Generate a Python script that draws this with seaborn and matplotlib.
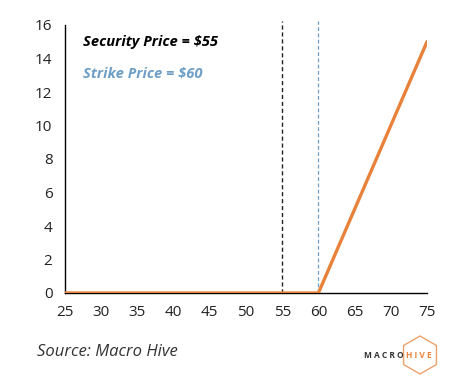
import numpy as np
import pandas as pd
import seaborn as sns
import matplotlib.pyplot as plt
from matplotlib.patches import Polygon

# Payoff data
prices = [25, 30, 35, 40, 45, 50, 55, 60, 65, 70, 75]
payoff = [0, 0, 0, 0, 0, 0, 0, 0, 5, 10, 15]
security_price = 55
strike_price = 60
x_ticks = [25, 30, 35, 40, 45, 50, 55, 60, 65, 70, 75]
y_ticks = [0, 2, 4, 6, 8, 10, 12, 14, 16]

orange = '#e8823a'
blue = '#6f9fc6'

sns.set_style('white')
plt.rcParams['font.family'] = ['Open Sans', 'DejaVu Sans']

df = pd.DataFrame({'price': prices, 'payoff': payoff})

W, H = 474, 382
fig = plt.figure(figsize=(W / 100, H / 100), dpi=100)
ax = fig.add_axes([65 / W, 1 - 293 / H, 362 / W, 268 / H])

ax.axvline(security_price, color='#222222', linestyle=(0, (3, 2)), linewidth=1.0, ymax=1.015, clip_on=False)
ax.axvline(strike_price, color=blue, linestyle=(0, (3, 2)), linewidth=0.9, ymax=1.015, clip_on=False)
sns.lineplot(data=df, x='price', y='payoff', color=orange, linewidth=2.4, ax=ax, zorder=5)

ax.set_xlim(25, 75)
ax.set_ylim(0, 16)
ax.set_xticks(x_ticks)
ax.set_yticks(y_ticks)
ax.set_xlabel('')
ax.set_ylabel('')
for s in ['top', 'right']:
    ax.spines[s].set_visible(False)
for s in ['left', 'bottom']:
    ax.spines[s].set_color('black')
    ax.spines[s].set_linewidth(1.0)
ax.tick_params(axis='both', direction='in', length=4, width=1, color='black',
               labelsize=11, labelcolor='#222222', pad=9)

ax.text(0.05, 0.935, 'Security Price = $55', transform=ax.transAxes, fontsize=10.6,
        fontweight='bold', style='italic', color='black', va='center')
ax.text(0.05, 0.82, 'Strike Price = $60', transform=ax.transAxes, fontsize=10.6,
        fontweight='bold', style='italic', color=blue, va='center')

fig.text(37 / W, 1 - 352 / H, 'Source: Macro Hive', fontsize=12, style='italic',
         color='#333333', va='center')

# logo: hexagon outline with MACRO/HIVE text
cx, cy, r = 420, 355, 19
verts = [((cx + r * np.cos(np.radians(a))) / W, 1 - (cy + r * np.sin(np.radians(a))) / H)
         for a in [90, 150, 210, 270, 330, 30]]
fig.patches.append(Polygon(verts, closed=True, transform=fig.transFigure, facecolor='none',
                           edgecolor=orange, linewidth=1.0, alpha=0.75))
fig.text(404 / W, 1 - 355 / H, 'M A C R O', fontsize=6, fontweight='bold', color='#333333',
         ha='right', va='center')
fig.text(406 / W, 1 - 355 / H, 'H I V E', fontsize=6, fontweight='bold', color=orange,
         ha='left', va='center')

fig.savefig('out.png', dpi=100)
